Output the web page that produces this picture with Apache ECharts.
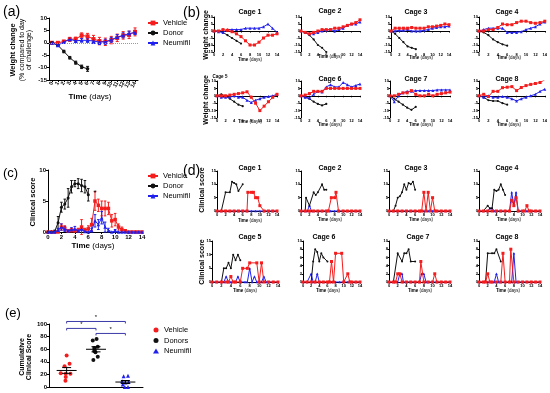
<!DOCTYPE html>
<html><head><meta charset="utf-8">
<script src="https://cdn.jsdelivr.net/npm/echarts@6/dist/echarts.min.js"></script>
<style>html,body{margin:0;padding:0;background:#fff}#c{width:550px;height:393px}</style>
</head><body><div id="c"></div><script>
// ================= DATA =================
const days = [0,1,2,3,4,5,6,7,8,9,10,11,12,13,14];
const dayLabels = ['0','1','2','3','4','5','6','7','8','9','10','11','12','13','14'];

// (a) weight change, mean +/- error
const aVehicle    = [0,0,0.5,1.4,1.5,3,2.6,1.5,0.7,0.4,1.1,2,3,3.2,4.4];
const aVehicleErr = [0,0.4,0.5,0.8,0.8,1,1.2,1.5,1.5,1.5,1.5,1.5,1.5,1.5,1.6];
const aDonor      = [0,-1,-3.5,-6,-8,-9.7,-10.5];
const aDonorErr   = [0,0.3,0.5,0.5,0.6,0.7,1];
const aNeumifil   = [0,-1,0.3,1.4,0.8,1,1,0.7,0.3,0.4,1.2,2.3,3,3.7,4.2];
const aNeumifilErr= [0,0.3,0.5,0.5,0.7,0.7,0.8,1,1,1,1,1,1,1,0.8];

// (b) weight change per cage (cages 1..8)
const bVehicle = [
 [0,0,1,0.5,-0.5,-2,-4,-7,-10,-10,-8,-5,-3,-3,-2],
 [0,-1,-2,-1,0,1,1,1,2,2,3,4,5,6,8],
 [0,2,2,2,2,2.5,2,2,2,3,3,3.5,4,5,4.5],
 [0,0,1,1,2.5,5,4.5,4.5,6,7,7,6,5.5,6,7],
 [0,0,0,0.5,1,1.5,2,2.7,-1,-5,-10,-7,-4,-1,1],
 [0,0.5,1.5,3,3,3,5,5,5,5,5,5,5,5,5],
 [0,0,1,2,2,3.5,1,0,0,1,0,1,1.5,2,2.5],
 [0,1,-0.5,3,3,5.5,5.8,6.2,3.5,5.6,6.9,7.7,8.3,9,10.8]
];
const bNeumifil = [
 [0,-0.5,-1,1,1,1,1,2,2,2,2,3,5,2,-1],
 [0,-1,-2,-2,-1,0,0.5,1,0,1,2,4,5,5,6.5],
 [0,0,0.5,0.5,1,0,0,0,0.5,1,2,2.5,3,3,3.5],
 [0,1,2,2,2,2,-1,-1,-1,-0.5,1,2,3,5,6.5],
 [0,-1,-1,-1,0,-1,-1,-3,-4.5,-3,-2,-1,-0.5,0,1],
 [0,-1,-1.5,1,3,2.5,6,7.5,6,6,9,7.5,6,7,8],
 [0,-4,0,2,3,3,3.5,3.5,3.5,3.5,3.5,4,4,4,4],
 [0,-1,0,-1,-1,-0.5,-1,-2,-3.5,-2,-1,0,1,3,4.5]
];
const bDonor = [
 [0,0,-1,-3,-5,-7,-9],
 [0,-1,-3,-6,-10,-12,-15],
 [0,-2,-5,-8,-11,-12,-13],
 [0,-1,-3,-6,-8,-9.5,-10.5],
 [0,1,0,-2,-4,-6,-7],
 [0,-1,-2,-4,-5.5,-6.5,-5.5],
 [0,-2,-4,-6,-8,-9.5,-7.5],
 [0,-1,-3,-3.5,-3.5,-5,-6]
];

// (c) clinical score (twice daily), mean +/- error
const cDays = [0,0.5,1,1.5,2,2.5,3,3.5,4,4.5,5,5.5,6,6.5,7,7.5,8,8.5,9,9.5,10,10.5,11,11.5,12,12.5,13,13.5,14];
const cVehicle    = [0,0,0,0,0.8,0.6,0.2,0.3,0.2,0.3,0.8,0.3,0.5,1.2,5,4.3,3.8,3.8,3.8,1.8,2,0.8,0.4,0.2,0,0,0,0,0];
const cVehicleErr = [0,0,0,0,0.5,0.4,0.2,0.3,0.2,0.3,1.2,0.3,0.5,1,1.5,1,1.2,1.2,1,1,1,0.5,0.4,0.2,0,0,0,0,0];
const cDonor      = [0,0,0.1,1.5,4,4.5,5.5,7.3,7.8,7.8,7.5,7.3,6];
const cDonorErr   = [0,0,0.2,1,0.8,0.8,1.5,1,0.5,0.8,1,1,1];
const cNeumifil   = [0,0,0,0.3,0.8,0.5,0.2,0.4,0.5,0.2,0.5,0.1,0,0.3,1.8,1.2,2.3,0.8,0.3,0,0.2,0,0,0,0,0,0,0,0];
const cNeumifilErr= [0,0,0,0.3,0.5,0.4,0.2,0.3,0.4,0.2,0.3,0.1,0,0.3,1,0.8,1,0.8,0.3,0,0.2,0,0,0,0,0,0,0,0];
const cStar = [[7, 6.3]];

// (d) clinical score per cage: [day, score]
const dVehicle = [
 [[0,0],[1,0],[2,0],[3,0],[4,0],[5,0],[6,0],[7,0],[7.2,7],[8,7],[8.5,7],[9,5],[9.5,5],[10,2],[11,0],[12,0],[13,0],[14,0]],
 [[0,0],[1,0],[2,0],[3,0],[4,0],[5,0],[6,0],[6.5,0],[7.2,5],[8,5],[8.3,7],[8.9,0],[10,0],[11,0],[12,0],[13,0],[14,0]],
 [[0,0],[1,0],[2,0],[3,0],[4,0],[5,0],[6,0],[7,0],[7.5,0],[8,7],[8.5,0],[9,7],[9.5,0],[10,5],[10.5,0],[11,0],[12,0],[13,0],[14,0]],
 [[0,0],[1,0],[2,0],[3,0],[4,0],[5,0],[6,0],[7,0],[7.5,4],[8,2],[8.5,5],[9,0],[10,0],[10.5,0],[11,2],[11.5,0],[12,0],[13,0],[14,0]],
 [[0,0],[1,0],[2,0],[3,0],[3.5,0],[4,2],[4.5,0],[5,0],[6,0],[6.5,5],[7.5,5],[8,7],[9.5,7],[10,0],[10.5,7],[11,0],[12,0],[13,0],[14,0]],
 [[0,0],[1,0],[2,0],[3,0],[4,0],[5,0],[6,0],[6.5,0],[7,5],[7.5,0],[8,7],[9.5,7],[10,0],[11,2],[11.5,0],[12,0],[13,0],[14,0]],
 [[0,0],[1,0],[1.5,0],[2,2],[2.5,2],[3,0],[4,0],[5,0],[6,0],[7,0],[7.3,5],[8,0],[9,0],[10,0],[10.5,2],[11,0],[12,0],[13,0],[14,0]],
 [[0,0],[1,0],[1.5,0],[2,2],[2.5,0],[3,0],[4,0],[5,0],[5.5,7],[6,0],[7,0],[7.3,8],[8,0],[9,0],[10,0],[11,0],[12,0],[13,0],[14,0]]
];
const dDonor = [
 [[1,0],[2,7],[3,7],[3.5,11],[4,10.5],[4.5,10],[5,7.5],[6,10]],
 [[1,0],[1.2,5],[2,2],[3,7],[3.5,6],[4,7],[5,10],[5.5,8],[6,8]],
 [[1,0],[1.5,2],[2,5],[2.5,5.5],[3,7],[3.5,10],[4,8],[4.5,10.5],[5,10],[5.5,11],[6,8]],
 [[1,0],[2,2],[2.5,1],[3,1],[3.5,8],[4,7.5],[4.5,8],[5,10],[5.5,8],[6,6]],
 [[2,0],[2.5,5],[3,5],[3.5,7],[4,5],[4.5,10],[5,8],[5.5,10],[6,8]],
 [[2,0],[2.5,5],[3,8],[3.5,7.3],[4,5],[4.5,7],[5,6],[6,5]],
 [[1,0],[2,7],[3,5],[3.5,7],[4,7],[4.5,8],[5,5],[6,5]],
 [[1.5,0],[2,7],[3,7],[3.5,7],[4,8],[5,5]]
];
const dNeumifil = [
 [[0,0],[1,0],[2,0],[3,0],[4,0],[5,0],[6,0],[7,0],[8,0],[9,0],[10,0],[11,0],[12,0],[13,0],[14,0]],
 [[0,0],[1,0],[1.5,0],[2,2],[2.5,0],[3,0],[4,0],[5,0],[6,0],[7,0],[8,0],[9,0],[10,0],[11,0],[12,0],[13,0],[14,0]],
 [[0,0],[1,0],[2,0],[3,0],[4,0],[5,0],[6,0],[7,0],[8,0],[9,0],[10,0],[11,0],[12,0],[13,0],[14,0]],
 [[0,0],[1,0],[2,0],[2.5,1],[3,1],[3.5,0],[4,0],[5,0],[6,0],[7,0],[7.5,7],[8,2],[8.5,7],[9,0],[10,0],[11,0],[12,0],[13,0],[14,0]],
 [[0,0],[1,0],[2,0],[2.5,0],[3,2],[3.5,0],[4,0],[5,0],[5.5,2],[6,0],[7,0],[7.5,0],[8,5],[8.5,0],[9,2],[9.5,0],[10,0],[10.5,0],[11,2],[11.5,0],[12,0],[13,0],[14,0]],
 [[0,0],[1,0],[2,2],[2.5,0],[3,0],[3.5,2],[4,0],[5,0],[6,0],[7,0],[8,0],[9,0],[10,0],[11,0],[12,0],[13,0],[14,0]],
 [[0,0],[1,0],[2,0],[2.5,2],[3,2],[3.3,0],[4,0],[5,0],[6,0],[7,0],[7.5,2],[8,2],[8.5,0],[9,0],[10,0],[11,0],[12,0],[13,0],[14,0]],
 [[0,0],[1,0],[2,0],[3,0],[3.5,0],[4,2],[4.5,0],[5,0],[6,0],[7,0],[7.5,0],[8,7],[8.5,0],[9,0],[10,0],[11,0],[12,0],[13,0],[14,0]]
];
const cageNames = ['Cage 1','Cage 2','Cage 3','Cage 4','Cage 5','Cage 6','Cage 7','Cage 8'];
const dYMax = [15,15,15,15,15,10,10,10];
const dYStep = [5,5,5,5,5,2,2,2];

// (e) cumulative clinical score per animal
const eGroups = ['Vehicle','Donors','Neumifil'];
const eVehicle  = [50,37,33,22,21,21,16,10];
const eVehicleX = [0,0.1,-0.07,-0.2,-0.03,0.13,-0.03,-0.04];
const eDonors   = [74,76,62,64,57,55,48,43];
const eDonorsX  = [-0.11,0.02,-0.06,0.06,-0.06,-0.02,0.06,-0.09];
const eNeumifil = [17,18,9,7,4,8,0,0];
const eNeumifilX= [-0.06,0.09,-0.11,0,-0.09,0.11,-0.02,0.09];
const eBrackets = [[1,3,104],[1,2,93],[2,3,85]];

// ================= BUILD =================
const FONT = '"Liberation Sans", Arial, sans-serif';
const RED = '#f41c1c', BLUE = '#2020ee', BLACK = '#111111', BRK = '#3a3aa8';
const grids = [], xAxes = [], yAxes = [], series = [], graphics = [];

function axisBase(fs, tick){
  return {
    axisLine:{show:true, lineStyle:{color:'#000', width:1}},
    axisTick:{show:true, length:tick, lineStyle:{color:'#000', width:1}},
    splitLine:{show:false},
    axisLabel:{fontSize:fs, color:'#000', fontWeight:'bold', fontFamily:FONT, margin:2}
  };
}
function addGrid(r, xa, ya){
  grids.push({left:r[0], top:r[1], width:r[2], height:r[3]});
  const gi = grids.length - 1;
  xa.gridIndex = gi; ya.gridIndex = gi;
  xAxes.push(xa); yAxes.push(ya);
  return gi;
}
function lineS(name, gi, data, color, sym, size, z){
  return {type:'line', name:name, xAxisIndex:gi, yAxisIndex:gi, data:data,
    symbol:sym, symbolSize:size, showSymbol:true, showAllSymbol:true, animation:false,
    itemStyle:{color:color, borderWidth:0}, lineStyle:{color:color, width:1}, z:z||2, silent:true};
}
function errS(id, gi, xs, ys, es, color, cap){
  const data = [];
  ys.forEach((y,i)=>{ if(es[i] > 0) data.push([xs[i], y, es[i]]); });
  return {type:'custom', name:id, xAxisIndex:gi, yAxisIndex:gi, data:data, silent:true, animation:false, z:1,
    encode:{x:0, y:1},
    renderItem:function(params, api){
      const x = api.value(0), y = api.value(1), e = api.value(2);
      const t = api.coord([x, y+e]), b = api.coord([x, y-e]);
      const st = {stroke:color, lineWidth:1};
      return {type:'group', children:[
        {type:'line', shape:{x1:t[0],y1:t[1],x2:b[0],y2:b[1]}, style:st},
        {type:'line', shape:{x1:t[0]-cap,y1:t[1],x2:t[0]+cap,y2:t[1]}, style:st},
        {type:'line', shape:{x1:b[0]-cap,y1:b[1],x2:b[0]+cap,y2:b[1]}, style:st}
      ]};
    }};
}
function pairs(xs, ys){ return ys.map((v,i)=>[xs[i], v]); }
function txt(x, y, text, size, weight, rot, align, rich){
  const s = {text:text, fontSize:size, fontFamily:FONT, fontWeight:weight||'normal', fill:'#000',
    align:align||'center', verticalAlign:'middle', textAlign:align||'center', textVerticalAlign:'middle'};
  if (rich) s.rich = rich;
  graphics.push({type:'text', x:x, y:y, rotation:rot||0, silent:true, style:s});
}
function timeLabel(x, y, size){
  txt(x, y, '{b|Time} (days)', size, 'normal', 0, 'center',
      {b:{fontWeight:'bold', fontSize:size, fontFamily:FONT}});
}

// ---------- (a) ----------
{
  const xa = Object.assign(axisBase(5.5, 2), {type:'category', data:dayLabels, boundaryGap:true});
  xa.axisTick.alignWithLabel = true;
  xa.axisLine.onZero = false;
  xa.axisLabel.rotate = 60; xa.axisLabel.interval = 0; xa.axisLabel.margin = 2;
  const ya = Object.assign(axisBase(6, 2), {type:'value', min:-15, max:10, interval:5});
  const gi = addGrid([49,18,89,62], xa, ya);
  const vs = lineS('Vehicle', gi, aVehicle, RED, 'rect', 4, 3);
  vs.markLine = {silent:true, symbol:'none', animation:false, label:{show:false},
    lineStyle:{type:'dotted', color:'#999', width:1}, data:[{yAxis:0}]};
  series.push(vs);
  series.push(lineS('Donor', gi, aDonor, BLACK, 'circle', 3.5, 3));
  series.push(lineS('Neumifil', gi, aNeumifil, BLUE, 'triangle', 4, 4));
  series.push(errS('aVE', gi, days, aVehicle, aVehicleErr, RED, 1.5));
  series.push(errS('aDE', gi, days, aDonor, aDonorErr, BLACK, 1.5));
  series.push(errS('aNE', gi, days, aNeumifil, aNeumifilErr, BLUE, 1.5));
}
// ---------- (c) ----------
{
  const xa = Object.assign(axisBase(6, 2), {type:'value', min:0, max:14, interval:2});
  const ya = Object.assign(axisBase(6, 2), {type:'value', min:0, max:10, interval:5});
  const gi = addGrid([48,170,94,62], xa, ya);
  series.push(lineS('Vehicle', gi, pairs(cDays, cVehicle), RED, 'rect', 3.5, 3));
  series.push(lineS('Donor', gi, pairs(cDays, cDonor), BLACK, 'circle', 3, 3));
  series.push(lineS('Neumifil', gi, pairs(cDays, cNeumifil), BLUE, 'triangle', 3.5, 4));
  series.push(errS('cVE', gi, cDays, cVehicle, cVehicleErr, RED, 1.3));
  series.push(errS('cDE', gi, cDays, cDonor, cDonorErr, BLACK, 1.3));
  series.push(errS('cNE', gi, cDays, cNeumifil, cNeumifilErr, BLUE, 1.3));
  series.push({type:'custom', name:'cStar', xAxisIndex:gi, yAxisIndex:gi, data:cStar, encode:{x:0,y:1}, silent:true,
    renderItem:function(p, api){ const c = api.coord([api.value(0), api.value(1)]);
      return {type:'text', x:c[0], y:c[1], style:{text:'*', fontSize:8, fontFamily:FONT, fill:'#000',
        align:'center', verticalAlign:'middle', textAlign:'center', textVerticalAlign:'middle'}}; }});
}
// ---------- (b) ----------
const bRects = [[214,17,63,35],[301,17,59,35],[391,17,58,35],[479,17,67,35],
                [217,81,60,37],[301,81,59,37],[390,81,60,37],[479,81,67,37]];
const bTitlePos = [[250,12],[330,11],[416,12],[507,12],[220,77],[330,79],[416,79],[507,79]];
const bTitleSize = [7,7,7,7,4.5,7,7,7];
const bTimePos = [[250,60],[330,57],[421,58],[509,58],[250,122],[330,125],[421,125],[509,125]];
for (let k = 0; k < 8; k++){
  const xa = Object.assign(axisBase(4, 1.5), {type:'value', min:0, max:14, interval:2});
  xa.axisLabel.margin = 1;
  const ya = Object.assign(axisBase(4, 1.5), {type:'value', min:-15, max:10, interval:5});
  ya.axisLabel.margin = 1;
  const gi = addGrid(bRects[k], xa, ya);
  series.push(lineS('bD'+k, gi, pairs(days, bDonor[k]), BLACK, 'circle', 2.2, 2));
  series.push(lineS('bN'+k, gi, pairs(days, bNeumifil[k]), BLUE, 'triangle', 3, 3));
  series.push(lineS('bV'+k, gi, pairs(days, bVehicle[k]), RED, 'rect', 3, 4));
  txt(bTitlePos[k][0], bTitlePos[k][1], cageNames[k], bTitleSize[k], 'bold');
  timeLabel(bTimePos[k][0], bTimePos[k][1], 4.5);
}
// ---------- (d) ----------
const dRects = [[217,171,60,40],[301,171,59,40],[389,171,61,40],[479,171,61,40],
                [212,241,66,41],[303,241,57,41],[389,241,61,41],[479,241,61,41]];
const dTitlePos = [[250,168],[330,168],[416,168],[507,168],[250,237],[324,237],[418,237],[507,237]];
const dTimePos = [[250,221],[330,220],[421,220],[509,220],[245,291],[328,291],[420,291],[508,291]];
for (let k = 0; k < 8; k++){
  const xa = Object.assign(axisBase(4, 1.5), {type:'value', min:0, max:14, interval:2});
  xa.axisLabel.margin = 1.5;
  const ya = Object.assign(axisBase(4, 1.5), {type:'value', min:0, max:dYMax[k], interval:dYStep[k]});
  ya.axisLabel.margin = 1;
  const gi = addGrid(dRects[k], xa, ya);
  series.push(lineS('dN'+k, gi, dNeumifil[k], BLUE, 'triangle', 2.5, 2));
  series.push(lineS('dD'+k, gi, dDonor[k], BLACK, 'circle', 2, 3));
  series.push(lineS('dV'+k, gi, dVehicle[k], RED, 'rect', 3, 4));
  txt(dTitlePos[k][0], dTitlePos[k][1], cageNames[k], 7, 'bold');
  timeLabel(dTimePos[k][0], dTimePos[k][1], 4.5);
}
// ---------- (e) ----------
{
  const xa = Object.assign(axisBase(6, 2), {type:'value', min:0.4, max:3.6});
  xa.axisTick.show = false; xa.axisLabel.show = false;
  const ya = Object.assign(axisBase(6, 2), {type:'value', min:0, max:100, interval:20});
  const gi = addGrid([49,324,94,63], xa, ya);
  const sets = [[eVehicle, eVehicleX, RED, 'circle', 'Vehicle '],
                [eDonors, eDonorsX, BLACK, 'circle', 'Donors'],
                [eNeumifil, eNeumifilX, BLUE, 'triangle', 'Neumifil ']];
  const stats = [];
  sets.forEach((s, g)=>{
    series.push({type:'scatter', name:s[4], xAxisIndex:gi, yAxisIndex:gi, symbol:s[3], symbolSize:4,
      itemStyle:{color:s[2], opacity:1}, silent:true, animation:false, z:3,
      data:s[0].map((v,i)=>[g+1+s[1][i], v])});
    const n = s[0].length, m = s[0].reduce((a,b)=>a+b,0)/n;
    const sd = Math.sqrt(s[0].reduce((a,b)=>a+(b-m)*(b-m),0)/(n-1));
    stats.push([g+1, m, sd/Math.sqrt(n)]);
  });
  series.push({type:'custom', name:'eMean', xAxisIndex:gi, yAxisIndex:gi, data:stats, encode:{x:0,y:1}, silent:true, z:4,
    renderItem:function(p, api){
      const x = api.value(0), m = api.value(1), e = api.value(2);
      const c = api.coord([x,m]), t = api.coord([x,m+e]), b = api.coord([x,m-e]);
      const st = {stroke:'#000', lineWidth:1};
      return {type:'group', children:[
        {type:'line', shape:{x1:c[0]-10,y1:c[1],x2:c[0]+10,y2:c[1]}, style:st},
        {type:'line', shape:{x1:t[0],y1:t[1],x2:b[0],y2:b[1]}, style:st},
        {type:'line', shape:{x1:t[0]-4.5,y1:t[1],x2:t[0]+4.5,y2:t[1]}, style:st},
        {type:'line', shape:{x1:b[0]-4.5,y1:b[1],x2:b[0]+4.5,y2:b[1]}, style:st}]};
    }});
  series.push({type:'custom', name:'eBr', xAxisIndex:gi, yAxisIndex:gi, data:eBrackets, encode:{x:[0,1],y:2}, silent:true, z:4, clip:false,
    renderItem:function(p, api){
      const a = api.coord([api.value(0), api.value(2)]), b = api.coord([api.value(1), api.value(2)]);
      const st = {stroke:BRK, lineWidth:1};
      return {type:'group', children:[
        {type:'line', shape:{x1:a[0],y1:a[1],x2:b[0],y2:b[1]}, style:st},
        {type:'line', shape:{x1:a[0],y1:a[1],x2:a[0],y2:a[1]+2}, style:st},
        {type:'line', shape:{x1:b[0],y1:b[1],x2:b[0],y2:b[1]+2}, style:st},
        {type:'text', x:(a[0]+b[0])/2, y:a[1]-1, style:{text:'*', fontSize:6, fontFamily:FONT, fill:'#000',
          align:'center', verticalAlign:'bottom', textAlign:'center', textVerticalAlign:'bottom'}}]};
    }});
}

// ---------- texts ----------
txt(3, 12, '(a)', 14, 'normal', 0, 'left');
txt(183, 13, '(b)', 14, 'normal', 0, 'left');
txt(3, 173, '(c)', 13, 'normal', 0, 'left');
txt(183, 171, '(d)', 14, 'normal', 0, 'left');
txt(5, 313, '(e)', 13, 'normal', 0, 'left');
const R = Math.PI/2;
txt(13, 50, 'Weight change', 7.5, 'bold', R);
txt(22, 50, '(% compared to day', 7, 'normal', R);
txt(29, 50, 'of challenge)', 7, 'normal', R);
timeLabel(90, 97, 8);
txt(33, 202, 'Clinical score', 7.5, 'bold', R);
timeLabel(93, 246, 8);
txt(206, 35, 'Weight change', 7, 'bold', R);
txt(206, 100, 'Weight change', 7, 'bold', R);
txt(202, 190, 'Clinical score', 7, 'bold', R);
txt(202, 262, 'Clinical score', 7, 'bold', R);
txt(22, 357, 'Cumulative', 7, 'bold', R);
txt(29, 357, 'Clinical Score', 7, 'bold', R);

const legText = {fontSize:7.5, fontFamily:FONT, color:'#000'};
const legItem = {borderWidth:0};
const legLines = ['Vehicle','Donor','Neumifil'];
const option = {
  animation:false,
  backgroundColor:'#fff',
  grid:grids, xAxis:xAxes, yAxis:yAxes, series:series,
  graphic:{elements:graphics},
  legend:[
    {data:legLines, left:147, top:19, orient:'vertical', itemGap:2, itemWidth:10, itemHeight:6, selectedMode:false, textStyle:legText, itemStyle:legItem, padding:0},
    {data:legLines, left:147, top:172, orient:'vertical', itemGap:2, itemWidth:10, itemHeight:6, selectedMode:false, textStyle:legText, itemStyle:legItem, padding:0},
    {data:['Vehicle ','Donors','Neumifil '], left:153, top:326, orient:'vertical', itemGap:2.5, itemWidth:6, itemHeight:5, selectedMode:false, textStyle:legText, itemStyle:legItem, padding:0}
  ]
};
const chart = echarts.init(document.getElementById('c'), null, {renderer:'canvas'});
chart.setOption(option);
</script></body></html>
